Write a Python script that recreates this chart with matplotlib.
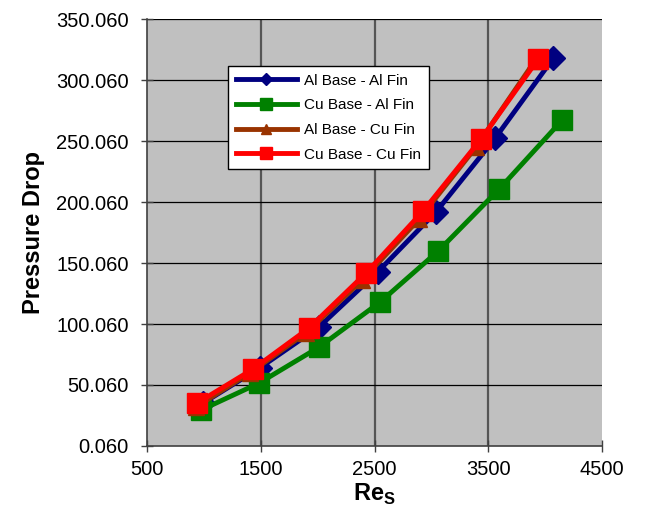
import matplotlib.pyplot as plt

plt.rcParams['font.family'] = ['Liberation Sans', 'DejaVu Sans']

# Reynolds number (x) and pressure drop (y) per configuration
re_al_al = [990, 1490, 2010, 2530, 3040, 3560, 4070]
dp_al_al = [35, 64, 97.5, 143, 192, 252.5, 318]

re_cu_al = [975, 1485, 2012, 2548, 3058, 3595, 4148]
dp_cu_al = [29.5, 51.6, 81.1, 118, 159.8, 210.7, 267.2]

re_al_cu = [930, 1405, 1900, 2390, 2890, 3390, 3910]
dp_al_cu = [32, 60, 93, 136, 186, 245, 316]

re_cu_cu = [940, 1432, 1924, 2425, 2926, 3436, 3937]
dp_cu_cu = [35.2, 63.1, 96.7, 141.8, 192.6, 251.7, 317.2]

x_ticks = [500, 1500, 2500, 3500, 4500]
y_ticks = [0.06 + 50 * i for i in range(8)]
y_labels = ['%.3f' % v for v in y_ticks]

fig = plt.figure(figsize=(6.56, 5.19), dpi=100)
ax = fig.add_axes([0.224, 0.1407, 0.694, 0.8225])
ax.set_facecolor('#C0C0C0')

ax.plot(re_al_al, dp_al_al, color='#000080', lw=3.5, marker='D', ms=12, label='Al Base - Al Fin', zorder=3)
ax.plot(re_cu_al, dp_cu_al, color='#008000', lw=3.5, marker='s', ms=15, label='Cu Base - Al Fin', zorder=3)
ax.plot(re_al_cu, dp_al_cu, color='#993300', lw=3.5, marker='^', ms=12, label='Al Base - Cu Fin', zorder=4)
ax.plot(re_cu_cu, dp_cu_cu, color='#FF0000', lw=3.5, marker='s', ms=15, label='Cu Base - Cu Fin', zorder=5)

ax.set_xlim(500, 4500)
ax.set_ylim(0.06, 350.06)
ax.set_xticks(x_ticks)
ax.set_xticklabels([str(v) for v in x_ticks])
ax.set_yticks(y_ticks)
ax.set_yticklabels(y_labels)

for v in x_ticks[1:-1]:
    ax.axvline(v, color='#555555', lw=1.6, zorder=1)
for v in y_ticks[1:]:
    ax.axhline(v, color='#000000', lw=0.9, zorder=1)

for s in ['top', 'right']:
    ax.spines[s].set_visible(False)
for s in ['left', 'bottom']:
    ax.spines[s].set_color('#404040')
    ax.spines[s].set_linewidth(1.2)

ax.tick_params(axis='both', direction='inout', length=8, width=1, color='#404040', labelsize=14.5)
ax.tick_params(axis='x', pad=6)
ax.tick_params(axis='y', pad=9)

ax.set_ylabel('Pressure Drop', fontsize=17, fontweight='bold', labelpad=8)
ax.set_xlabel('Re$_\\mathregular{S}$', fontsize=17, fontweight='bold', labelpad=2)

leg = ax.legend(loc='upper left', bbox_to_anchor=(0.178, 0.89), fontsize=11, handlelength=4,
                markerscale=0.55, frameon=True, fancybox=False, borderpad=0.5, labelspacing=0.7,
                handletextpad=0.5, borderaxespad=0)
leg.get_frame().set_edgecolor('black')
leg.get_frame().set_linewidth(1)
leg.get_frame().set_alpha(1)

fig.savefig('out.png', dpi=100)
